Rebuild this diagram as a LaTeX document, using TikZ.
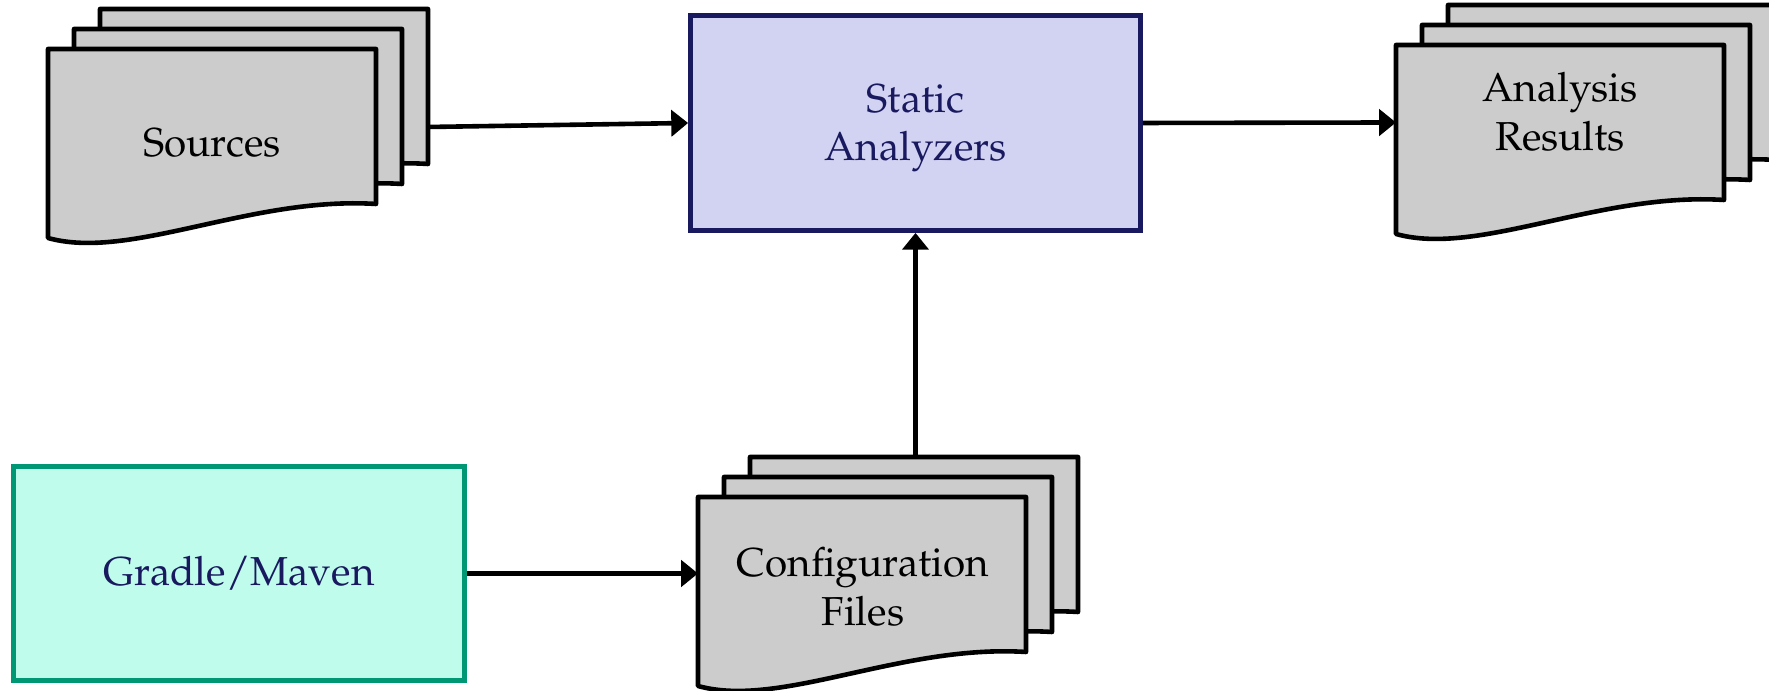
\documentclass[tikz,border=0pt]{standalone}
\IfFileExists{mathpazo.sty}{\usepackage[T1]{fontenc}\usepackage{mathpazo}}{\usepackage{fontspec}\setmainfont{Liberation Serif}}
\usetikzlibrary{arrows.meta}
\definecolor{navy}{RGB}{25,25,96}
\definecolor{lav}{RGB}{210,210,242}
\definecolor{mint}{RGB}{192,252,236}
\definecolor{tealgreen}{RGB}{0,152,116}
\definecolor{sheetgray}{RGB}{204,204,204}
\tikzset{
  sheetline/.style={draw=black,fill=sheetgray,line width=1.15pt,line join=round},
  procbox/.style={rectangle,line width=1.2pt,minimum width=112.5pt,minimum height=53.75pt,inner sep=0pt},
  doctext/.style={align=center,inner sep=0pt,font=\fontsize{10.1}{12.1}\selectfont},
  flow/.style={line width=1.15pt,-{Triangle[length=4.2pt,width=6.5pt]}}
}
\newcommand\onesheet[2]{%
  \begin{scope}[shift={(#1,#2)}]
    \path[sheetline] (0,0) -- (328,0) -- (328,155) .. controls (203,147) and (82,212) .. (0,189) -- cycle;
  \end{scope}}
\newcommand\sheetstack[2]{%
  \onesheet{#1+52}{#2-40}\onesheet{#1+26}{#2-20}\onesheet{#1}{#2}}
\begin{document}
\begin{tikzpicture}[x=0.25pt,y=-0.25pt]
\useasboundingbox (0,0) rectangle (1769,691);
% document stacks
\sheetstack{48}{49}
\sheetstack{1396}{45}
\sheetstack{698}{497}
\node[doctext] (src) at (212,142.5) {Sources};
\node[doctext] (res) at (1560,112) {Analysis\\Results};
\node[doctext] (cfg) at (863,587) {Configuration\\Files};
\coordinate (src-out) at (428,127);
\coordinate (res-in) at (1396,122.5);
\coordinate (cfg-in) at (698,573.5);
\coordinate (cfg-out) at (915.5,457);
% process boxes
\node[procbox,draw=navy,fill=lav] (sa) at (915.5,123) {};
\node[doctext,text=navy] (satext) at (915.5,128.5) {Static\\Analyzers};
\node[procbox,draw=tealgreen,fill=mint,minimum width=112.75pt,minimum height=53.5pt] (gm) at (239,573.5) {};
\node[doctext,text=navy] (gmtext) at (239,573.5) {Gradle/Maven};
% connectors
\draw[flow] (src-out) -- (sa.west);
\draw[flow] (sa.east) -- (res-in);
\draw[flow] (cfg-out) -- (sa.south);
\draw[flow] (gm.east) -- (cfg-in);
\end{tikzpicture}
\end{document}
